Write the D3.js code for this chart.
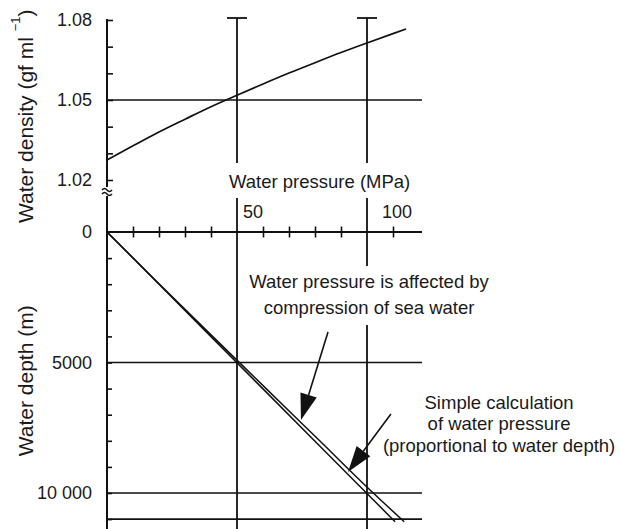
<!DOCTYPE html>
<html><head><meta charset="utf-8">
<script src="https://cdn.jsdelivr.net/npm/d3@7"></script>
<style>
html,body{margin:0;padding:0;background:#fff;}
svg{display:block;font-family:"Liberation Sans",Arial,Helvetica,sans-serif;}
text{fill:#1a1a1a;}
</style></head>
<body><svg id="c" width="621" height="529"></svg>
<script>
// ---- data ----
const densityPressure = [0, 10, 20, 30, 40, 50, 60, 70, 80, 90, 100, 110, 115];            // MPa
const densityValues   = [1.0275, 1.0328, 1.038, 1.0428, 1.0475, 1.0518, 1.056, 1.0601, 1.064, 1.0678, 1.0714, 1.0749, 1.0766]; // g/ml
const depthValues        = [0, 2000, 4000, 6000, 8000, 10000, 11100];                // m
const pressureCompressed = [0, 20.2, 40.6, 61.2, 81.8, 102.4, 114.3];                // MPa
const pressureSimple     = [0, 20.0, 39.9, 59.9, 79.8, 99.8, 110.8];                 // MPa
const densityTicks  = [1.02, 1.03, 1.04, 1.05, 1.06, 1.07, 1.08];
const densityLabels = [1.02, 1.05, 1.08];
const pressureTicks = [10, 20, 30, 40, 60, 70, 80, 90, 110];
const pressureGrid  = [50, 100];
const depthTicks    = [1000, 2000, 3000, 4000, 5000, 6000, 7000, 8000, 9000, 10000, 11000];
const depthLabels   = [0, 5000, 10000];
const depthGrid     = [5000, 10000, 11000];

const svg = d3.select("#c");
const X0 = 107, XR = 422;
const x  = d3.scaleLinear().domain([0, 100]).range([X0, 367]);
const yT = d3.scaleLinear().domain([1.02, 1.08]).range([180, 20]);
const yB = d3.scaleLinear().domain([0, 10000]).range([232, 493]);
const FS = 18, FT = 18.5;
const stroke = "#111";

// ---------- TOP PANEL ----------
const axT = d3.axisLeft(yT).tickValues(densityTicks).tickSizeInner(-6).tickSizeOuter(0)
  .tickPadding(15).tickFormat(d => densityLabels.some(v => Math.abs(v - d) < 1e-9) ? d3.format(".2f")(d) : "");
const gT = svg.append("g").attr("transform", `translate(${X0},0)`).call(axT);
gT.select(".domain").remove();
gT.selectAll(".tick line").attr("stroke", stroke).attr("stroke-width", 1.6);
gT.selectAll(".tick text").attr("font-size", FS).attr("fill", "#1a1a1a").attr("font-family", "Liberation Sans, Arial, sans-serif");
svg.append("line").attr("x1", X0).attr("x2", X0).attr("y1", yT(1.08) - 1).attr("y2", 187)
  .attr("stroke", stroke).attr("stroke-width", 2);
svg.append("line").attr("x1", X0).attr("x2", XR).attr("y1", yT(1.05)).attr("y2", yT(1.05))
  .attr("stroke", stroke).attr("stroke-width", 1.6);
pressureGrid.forEach(p => {
  svg.append("line").attr("x1", x(p)).attr("x2", x(p)).attr("y1", 18).attr("y2", 163)
    .attr("stroke", stroke).attr("stroke-width", 1.8);
  svg.append("line").attr("x1", x(p) - 10).attr("x2", x(p) + 10).attr("y1", 18).attr("y2", 18)
    .attr("stroke", stroke).attr("stroke-width", 1.8);
});
svg.append("path")
  .datum(densityPressure.map((p, i) => [p, densityValues[i]]))
  .attr("fill", "none").attr("stroke", stroke).attr("stroke-width", 1.7)
  .attr("d", d3.line().x(d => x(d[0])).y(d => yT(d[1])).curve(d3.curveMonotoneX));

const tt = svg.append("text").attr("transform", "translate(33,223) rotate(-90)")
  .attr("font-size", 21).attr("text-anchor", "start");
tt.append("tspan").text("Water density (gf ml ");
tt.append("tspan").attr("font-size", 13).attr("dy", -13).text("\u22121");
tt.append("tspan").attr("dy", 13).text(")");

svg.append("path").attr("d", "M102,190 q2.5,-3 5,0 t5,0").attr("fill", "none").attr("stroke", stroke).attr("stroke-width", 1.5);
svg.append("path").attr("d", "M102,194 q2.5,-3 5,0 t5,0").attr("fill", "none").attr("stroke", stroke).attr("stroke-width", 1.5);

// ---------- BOTTOM PANEL ----------
svg.append("line").attr("x1", X0).attr("x2", X0).attr("y1", 196).attr("y2", 529)
  .attr("stroke", stroke).attr("stroke-width", 2);
const axB = d3.axisLeft(yB).tickValues(depthTicks).tickSizeInner(-5).tickSizeOuter(0).tickFormat("");
const gB = svg.append("g").attr("transform", `translate(${X0},0)`).call(axB);
gB.select(".domain").remove();
gB.selectAll(".tick line").attr("stroke", stroke).attr("stroke-width", 1.6);
svg.selectAll("text.dl").data(depthLabels).enter().append("text").attr("class", "dl")
  .attr("x", 92).attr("y", d => yB(d)).attr("dy", "0.35em").attr("text-anchor", "end")
  .attr("font-size", FS).text(d => d === 10000 ? "10 000" : String(d));
svg.selectAll("line.hg").data(depthGrid).enter().append("line").attr("class", "hg")
  .attr("x1", X0).attr("x2", XR).attr("y1", d => yB(d)).attr("y2", d => yB(d))
  .attr("stroke", stroke).attr("stroke-width", 1.6);
const axP = d3.axisTop(x).tickValues(pressureTicks).tickSizeInner(11).tickSizeOuter(0).tickFormat("");
const gP = svg.append("g").attr("transform", `translate(0,${yB(0) + 5.5})`).call(axP);
gP.select(".domain").remove();
gP.selectAll(".tick line").attr("stroke", stroke).attr("stroke-width", 1.6);
svg.append("line").attr("x1", X0).attr("x2", XR).attr("y1", yB(0)).attr("y2", yB(0))
  .attr("stroke", stroke).attr("stroke-width", 2);
pressureGrid.forEach(p => {
  svg.append("line").attr("x1", x(p)).attr("x2", x(p)).attr("y1", 198).attr("y2", 529)
    .attr("stroke", stroke).attr("stroke-width", 1.8);
});
svg.append("text").attr("x", x(50) + 6).attr("y", 218).attr("font-size", FS).text("50");
svg.append("text").attr("x", x(100) + 15).attr("y", 218).attr("font-size", FS).text("100");
svg.append("text").attr("x", 229).attr("y", 188).attr("font-size", FT).text("Water pressure (MPa)");

const ln = d3.line().x(d => x(d[0])).y(d => yB(d[1]));
svg.append("path").datum(depthValues.map((d, i) => [pressureSimple[i], d]))
  .attr("fill", "none").attr("stroke", stroke).attr("stroke-width", 1.5).attr("d", ln);
svg.append("path").datum(depthValues.map((d, i) => [pressureCompressed[i], d]))
  .attr("fill", "none").attr("stroke", stroke).attr("stroke-width", 1.5)
  .attr("d", ln.curve(d3.curveMonotoneY));

svg.append("text").attr("transform", `translate(33,${yB(5700)}) rotate(-90)`)
  .attr("font-size", 21).attr("text-anchor", "middle").text("Water depth (m)");

// ---------- annotations ----------
function arrow(p1, d1, p2, d2) {
  const x1 = x(p1), y1 = yB(d1), x2 = x(p2), y2 = yB(d2);
  const a = Math.atan2(y2 - y1, x2 - x1), L = 26, W = 8.5;
  const bx = x2 - L * Math.cos(a), by = y2 - L * Math.sin(a);
  svg.append("line").attr("x1", x1).attr("y1", y1).attr("x2", bx).attr("y2", by)
    .attr("stroke", stroke).attr("stroke-width", 1.6);
  svg.append("path").attr("fill", stroke)
    .attr("d", `M${x2},${y2}L${bx + W * Math.sin(a)},${by - W * Math.cos(a)}L${bx - W * Math.sin(a)},${by + W * Math.cos(a)}Z`);
}

// white knockout behind first annotation
const bg1 = svg.append("rect").attr("fill", "#fff");
const t1 = svg.append("text").attr("font-size", FT).attr("text-anchor", "middle");
t1.append("tspan").attr("x", x(100.8)).attr("y", yB(2146)).text("Water pressure is affected by");
t1.append("tspan").attr("x", x(100.8)).attr("y", yB(3143)).text("compression of sea water");
const bb = t1.node().getBBox();
bg1.attr("x", bb.x - 2).attr("y", bb.y - 5).attr("width", bb.width + 4).attr("height", bb.height + 12);

arrow(85, 3830, 74.6, 7200);
arrow(109.2, 6970, 92.7, 9195);

const t2 = svg.append("text").attr("font-size", FT).attr("text-anchor", "middle");
t2.append("tspan").attr("x", x(150.8)).attr("y", yB(6780)).text("Simple calculation");
t2.append("tspan").attr("x", x(150.8)).attr("y", yB(7600)).text("of water pressure");
t2.append("tspan").attr("x", x(150.8)).attr("y", yB(8430)).text("(proportional to water depth)");
</script></body></html>
